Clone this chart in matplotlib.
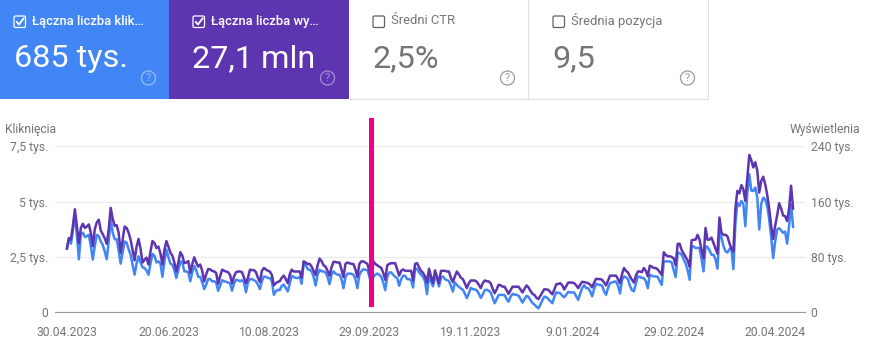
import matplotlib
matplotlib.use('Agg')
import matplotlib.pyplot as plt
from matplotlib.patches import Rectangle, FancyBboxPatch, Circle
import pandas as pd

plt.rcParams['font.family'] = ['Roboto', 'DejaVu Sans']

W = 873
H = 354

# dane dzienne, kazdy wiersz to 7 dni, od 30.04.2023
klikniecia = [
    2.9, 3.36, 3.1, 3.7, 4.42, 3.5, 2.4,
    3.5, 3.6, 3.4, 3.44, 3.5, 3.0, 2.38,
    3.0, 3.5, 3.45, 3.2, 3.05, 2.75, 2.4,
    3.2, 4.2, 3.6, 3.3, 3.3, 2.8, 2.2,
    2.7, 3.2, 3.15, 2.85, 2.6, 2.15, 1.7,
    2.2, 2.53, 2.25, 2.03, 2.0, 1.89, 1.7,
    2.2, 2.64, 2.55, 2.25, 2.3, 2.2, 1.6,
    2.3, 2.83, 2.5, 2.2, 2.15, 1.9, 1.55,
    1.9, 2.3, 2.25, 1.85, 1.85, 1.8, 1.4,
    1.8, 2.1, 1.9, 1.6, 1.6, 1.35, 1.05,
    1.25, 1.5, 1.5, 1.4, 1.4, 1.35, 0.97,
    1.2, 1.45, 1.4, 1.38, 1.35, 1.3, 0.98,
    1.3, 1.47, 1.45, 1.4, 1.45, 1.35, 0.91,
    1.35, 1.5, 1.5, 1.45, 1.4, 1.25, 1.05,
    1.4, 1.62, 1.6, 1.55, 1.55, 1.4, 0.79,
    0.95, 1.02, 1.0, 1.2, 1.25, 1.1, 0.94,
    1.3, 1.65, 1.6, 1.55, 1.55, 1.6, 1.29,
    2.27, 2.15, 1.95, 1.92, 1.85, 1.6, 1.21,
    1.7, 1.92, 1.85, 1.85, 1.8, 1.6, 1.27,
    1.7, 1.85, 1.75, 1.7, 1.7, 1.5, 1.09,
    1.6, 1.74, 1.75, 1.74, 1.7, 1.5, 1.09,
    1.7, 1.85, 1.95, 1.92, 1.9, 1.65, 1.2,
    1.6, 1.7, 1.75, 1.7, 1.6, 1.35, 1.0,
    1.6, 1.8, 1.8, 1.7, 1.6, 1.55, 1.2,
    1.5, 1.65, 1.65, 1.5, 1.5, 1.45, 1.12,
    2.0, 1.95, 1.8, 1.7, 1.6, 1.4, 0.82,
    1.7, 1.4, 1.17, 1.6, 1.5, 1.17, 1.55,
    1.62, 1.5, 1.45, 1.42, 1.2, 0.94, 1.35,
    1.24, 1.15, 1.08, 1.02, 0.85, 0.64, 0.85,
    1.1, 1.05, 1.03, 1.0, 0.85, 0.65, 0.8,
    1.0, 1.02, 0.98, 0.9, 0.65, 0.41, 0.6,
    0.78, 0.79, 0.78, 0.78, 0.6, 0.48, 0.7,
    0.83, 0.8, 0.79, 0.75, 0.6, 0.44, 0.6,
    0.74, 0.7, 0.55, 0.42, 0.35, 0.25, 0.18,
    0.35, 0.55, 0.71, 0.68, 0.6, 0.5, 0.41,
    0.7, 0.9, 0.88, 0.86, 0.75, 0.68, 0.8,
    0.92, 0.9, 0.9, 0.89, 0.72, 0.56, 0.85,
    1.1, 1.22, 1.09, 1.09, 0.95, 0.72, 1.05,
    1.29, 1.25, 1.24, 1.2, 0.95, 0.79, 1.1,
    1.32, 1.35, 1.38, 1.39, 1.2, 0.85, 1.45,
    1.62, 1.58, 1.5, 1.2, 1.0, 0.95, 1.3,
    1.62, 1.6, 1.55, 1.55, 1.4, 1.09, 1.7,
    1.65, 1.62, 1.62, 1.6, 1.4, 1.24, 2.3,
    2.3, 2.3, 2.3, 2.25, 1.9, 1.59, 2.68,
    2.68, 2.6, 2.4, 2.2, 1.9, 1.47, 2.98,
    2.98, 2.9, 2.91, 2.9, 2.4, 1.85, 2.98,
    2.95, 2.8, 2.6, 2.6, 2.4, 1.97, 3.59,
    3.4, 3.0, 2.76, 2.7, 2.85, 2.9, 1.95,
    4.0, 4.95, 4.8, 5.03, 4.9, 3.89, 5.4,
    6.24, 5.5, 5.48, 5.64, 5.2, 3.74, 4.9,
    5.18, 5.1, 4.8, 4.2, 3.4, 2.45, 3.2,
    3.74, 3.8, 3.7, 3.59, 3.65, 3.1, 3.9,
    4.88, 3.86,
]

wyswietlenia = [
    92, 107, 105, 125, 149, 125, 100,
    122, 128, 122, 124, 127, 115, 95.5,
    120, 130, 134, 118, 113, 107, 99,
    120, 151, 135, 125, 126, 115, 86,
    105, 124, 122, 115, 105, 90, 75,
    95, 106, 92, 72, 76, 79, 69,
    88, 103, 100, 93, 95, 85, 69,
    90, 103, 95, 86, 82, 72, 59,
    72, 87, 82, 71, 72, 74, 57,
    70, 79.5, 72, 66, 69, 60, 44.6,
    55, 62.6, 62, 60, 59, 57, 41,
    52, 61.6, 60, 59, 58, 54, 42,
    52, 58, 59, 59, 58, 50, 42,
    50, 61.6, 61, 61, 58, 50, 43.7,
    60, 64, 62, 60, 59, 54, 39,
    42, 44, 45, 50, 53, 48, 42,
    55, 61.6, 59, 59, 59, 59, 50,
    73.7, 72, 70, 70, 66, 60, 54,
    68, 77.6, 74, 68, 66, 60, 53,
    65, 73, 72.7, 72, 72, 62, 51,
    70, 72, 71, 70, 70, 62, 51,
    70, 73.7, 73.7, 72, 70, 60, 37,
    73.7, 70, 68, 66, 64, 57, 47,
    68, 70, 71, 71, 71, 62, 53,
    60, 62, 60, 60, 60, 60, 46,
    70, 71, 65, 60, 57, 52, 43,
    63, 52, 42, 60.6, 52, 42, 60,
    60, 60, 59, 59, 50, 43.7, 52,
    59, 55, 50, 48, 42, 35, 42,
    46, 46, 46, 44, 40, 35, 42,
    46, 45, 44.6, 42, 34, 27.6, 33,
    39.8, 39, 37, 37, 32, 26.7, 32,
    37, 37, 37, 37, 33, 28.6, 34,
    38.8, 36, 31, 26.7, 25, 21, 19,
    24, 29, 33.5, 33, 32.5, 29, 26,
    33, 40.7, 41, 42, 39, 33, 38,
    43, 43, 43, 42, 39, 35, 40,
    44, 43.7, 43, 42, 40, 36, 43,
    48.5, 48, 48, 47, 43, 39, 46,
    53, 53, 53, 53, 48, 42, 55,
    64, 60, 57.7, 52, 47, 43, 53,
    59, 59, 58, 64, 60, 52, 67.4,
    66, 64, 64, 62, 58, 54, 86.8,
    83, 81, 81, 80, 78, 68, 99,
    99, 90, 85, 80, 75, 66, 104,
    105, 105, 112, 105, 90, 78, 122,
    105, 105, 108, 100, 92, 85, 137,
    115, 112, 112, 110, 100, 92, 88,
    150, 175.6, 172, 183.8, 178, 161, 195,
    227.5, 220, 209.5, 217, 205, 173, 190,
    196, 185, 170, 150, 125, 106, 125,
    140, 157.6, 150, 140, 139, 132, 150,
    183, 150,
]

daty = pd.date_range('2023-04-30', periods=len(klikniecia))

etykiety_dat = ['30.04.2023', '20.06.2023', '10.08.2023', '29.09.2023',
                '19.11.2023', '9.01.2024', '29.02.2024', '20.04.2024']
ticki_dat = pd.to_datetime(etykiety_dat, format='%d.%m.%Y')

ticki_lewe = [0, 2.5, 5, 7.5]
etykiety_lewe = ['0', '2,5 tys.', '5 tys.', '7,5 tys.']
ticki_prawe = [0, 80, 160, 240]
etykiety_prawe = ['0', '80 tys.', '160 tys.', '240 tys.']

karty_tytuly = ['Łączna liczba klik…', 'Łączna liczba wy…', 'Średni CTR', 'Średnia pozycja']
karty_wartosci = ['685 tys.', '27,1 mln', '2,5%', '9,5']

NIEBIESKI = '#4285f4'
FIOLET = '#5e35b1'
SZARY = '#757575'

fig = plt.figure(figsize=(W / 100, H / 100), dpi=100, facecolor='white')

# wykres glowny
ax = fig.add_axes([55 / W, 1 - 312.3 / H, 750 / W, 166 / H])
ax.plot(daty, klikniecia, color=NIEBIESKI, lw=1.8, solid_joinstyle='round')
ax.set_ylim(0, 7.5)
ax.set_xlim(daty[0] - pd.Timedelta(days=6), daty[-1] + pd.Timedelta(days=6))
ax.set_yticks(ticki_lewe)
ax.set_yticklabels(etykiety_lewe)
ax.set_xticks(ticki_dat)
ax.set_xticklabels(etykiety_dat)
ax.grid(axis='y', color='#ebebeb', lw=1)
ax.set_axisbelow(True)
ax.tick_params(axis='both', length=0, labelsize=8.7, labelcolor=SZARY)
ax.tick_params(axis='x', pad=10)
ax.tick_params(axis='y', pad=5)
for s in ['top', 'left', 'right']:
    ax.spines[s].set_visible(False)
ax.spines['bottom'].set_color('#9e9e9e')

ax2 = ax.twinx()
ax2.plot(daty, wyswietlenia, color=FIOLET, lw=1.8, solid_joinstyle='round')
ax2.set_ylim(0, 240)
ax2.set_yticks(ticki_prawe)
ax2.set_yticklabels(etykiety_prawe)
ax2.tick_params(axis='y', length=0, labelsize=8.7, labelcolor=SZARY, pad=4)
for s in ['top', 'left', 'right', 'bottom']:
    ax2.spines[s].set_visible(False)

# warstwa w pikselach na karty i pionowa linie
nak = fig.add_axes([0, 0, 1, 1], facecolor='none')
nak.set_xlim(0, W)
nak.set_ylim(H, 0)
nak.axis('off')

nak.add_patch(Rectangle((0, 0), 169, 99, color=NIEBIESKI, lw=0))
nak.add_patch(Rectangle((169, 0), 180, 99, color=FIOLET, lw=0))
nak.plot([349, 708, 708], [98.5, 98.5, 0], color='#e0e0e0', lw=0.8)
nak.plot([528, 528], [0, 98.5], color='#e0e0e0', lw=0.8)

karty_x = [14, 193, 373, 553]
for i in range(4):
    x = karty_x[i]
    jasna = i < 2
    kolor = 'white' if jasna else SZARY
    nak.add_patch(FancyBboxPatch((x, 16), 11.5, 11.5, boxstyle='round,pad=0,rounding_size=1.5',
                                 fc='none', ec='white' if jasna else '#616161', lw=0.9))
    if jasna:
        nak.plot([x + 2.8, x + 5, x + 9.5], [22, 24.5, 18.5], color='white', lw=1.3)
    nak.text(x + 18, 21, karty_tytuly[i], color=kolor, fontsize=9.4, va='center', ha='left',
             fontweight='medium' if jasna else 'normal')
    nak.text(x - 0.5, 67, karty_wartosci[i], color='white' if jasna else SZARY, fontsize=23.3,
             va='baseline', ha='left')
    # ikonka pomocy
    kolor_ik = '#ffffff' if jasna else '#9a9a9a'
    alfa = 0.45 if jasna else 1
    xi = x + 134.5
    nak.add_patch(Circle((xi, 78), 7, fc='none', ec=kolor_ik, lw=0.9, alpha=alfa))
    nak.text(xi, 78.3, '?', color=kolor_ik, alpha=alfa, fontsize=8, ha='center', va='center')

nak.text(5, 130, 'Kliknięcia', color=SZARY, fontsize=8.7, ha='left', va='center')
nak.text(860, 130, 'Wyświetlenia', color=SZARY, fontsize=8.7, ha='right', va='center')

# rozowa linia
nak.add_patch(Rectangle((369.2, 118), 5, 189, color='#ec008c', lw=0))

fig.savefig('out.png', dpi=100)
